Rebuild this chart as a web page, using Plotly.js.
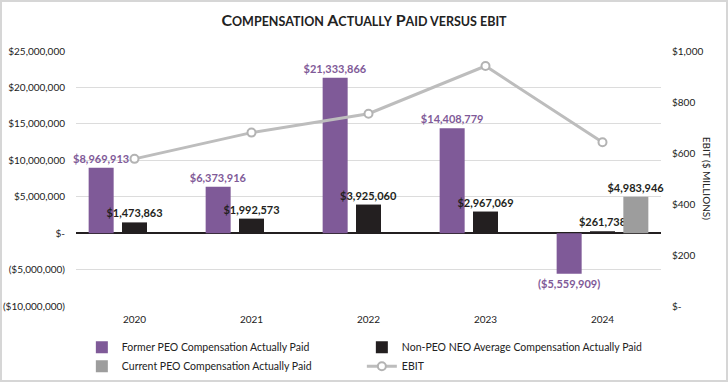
<!DOCTYPE html>
<html>
<head>
<meta charset="utf-8">
<script src="https://cdn.plot.ly/plotly-3.0.1.min.js"></script>
<style>
  html, body { margin: 0; padding: 0; background: #ffffff; }
  #chart { width: 724px; height: 378px; border: 2px solid #d6d6d6; }
</style>
</head>
<body>
<div id="chart"></div>
<script>
const years = ['2020', '2021', '2022', '2023', '2024'];
const formerPEO = [8969913, 6373916, 21333866, 14408779, -5559909];
const nonPEO = [1473863, 1992573, 3925060, 2967069, 261738];
const currentPEO = [null, null, null, null, 4983946];
const ebit = [577, 680, 754, 941, 642];

const leftTickVals = [25000000, 20000000, 15000000, 10000000, 5000000, 0, -5000000, -10000000];
const leftTickText = ['$25,000,000', '$20,000,000', '$15,000,000', '$10,000,000', '$5,000,000', '$-', '($5,000,000)', '($10,000,000)'];
const rightTickVals = [1000, 800, 600, 400, 200, 0];
const rightTickText = ['$1,000', '$800', '$600', '$400', '$200', '$-'];

function money(v) {
  if (v === null || v === undefined) return '';
  const s = '$' + Math.abs(v).toLocaleString('en-US');
  return v < 0 ? '(' + s + ')' : s;
}

const PURPLE = '#7f5a98';
const BLACK = '#231f20';
const GRAY = '#9d9d9d';
const LINE = '#bdbdbd';
const FONT = 'Lato, "Open Sans", sans-serif';

const traces = [
  {
    type: 'bar', name: 'Former PEO Compensation Actually Paid',
    x: years, y: formerPEO, marker: { color: PURPLE },
    text: formerPEO.map(money), textposition: 'outside', constraintext: 'none', cliponaxis: false,
    textfont: { family: FONT, size: 11, color: PURPLE, weight: 'bold' },
    hoverinfo: 'none'
  },
  {
    type: 'bar', name: 'Non-PEO NEO Average Compensation Actually Paid',
    x: years, y: nonPEO, marker: { color: BLACK },
    text: nonPEO.map(money), textposition: 'outside', constraintext: 'none', cliponaxis: false,
    textfont: { family: FONT, size: 11, color: BLACK, weight: 'bold' },
    hoverinfo: 'none'
  },
  {
    type: 'bar', name: 'Current PEO Compensation Actually Paid',
    x: years, y: currentPEO, marker: { color: GRAY },
    text: currentPEO.map(money), textposition: 'outside', constraintext: 'none', cliponaxis: false,
    textfont: { family: FONT, size: 11, color: BLACK, weight: 'bold' },
    hoverinfo: 'none'
  },
  {
    type: 'scatter', mode: 'lines+markers', name: 'EBIT',
    x: years, y: ebit, yaxis: 'y2',
    line: { color: LINE, width: 3 },
    marker: { symbol: 'circle', size: 8, color: '#ffffff', line: { color: '#b3b3b3', width: 2 } },
    hoverinfo: 'none'
  }
];

const sc = 'font-size:12.5px';
const layout = {
  width: 724, height: 378,
  margin: { l: 74, r: 65, t: 49, b: 74, autoexpand: false },
  paper_bgcolor: '#ffffff', plot_bgcolor: '#ffffff',
  font: { family: FONT, size: 10, color: '#222222' },
  title: {
    text: '<b>C<span style="' + sc + '">OMPENSATION</span> A<span style="' + sc + '">CTUALLY</span> P<span style="' + sc + '">AID VERSUS EBIT</span></b>',
    font: { family: FONT, size: 16, color: '#222222' },
    x: 0.5, xanchor: 'center', y: 0.952, yanchor: 'middle'
  },
  barmode: 'group', bargap: 0.145, bargroupgap: 0.25,
  xaxis: {
    type: 'category', showgrid: false, showline: false, zeroline: false,
    tickfont: { family: FONT, size: 10, color: '#222222' },
    ticks: 'outside', ticklen: 4, tickcolor: 'rgba(0,0,0,0)'
  },
  yaxis: {
    range: [-10000000, 25000000], tickvals: leftTickVals, ticktext: leftTickText,
    showgrid: true, gridcolor: '#dcdcdc', gridwidth: 1,
    zeroline: true, zerolinecolor: BLACK, zerolinewidth: 2,
    showline: false, ticks: 'outside', ticklen: 8, tickcolor: 'rgba(0,0,0,0)',
    tickfont: { family: FONT, size: 10, color: '#222222' }
  },
  yaxis2: {
    overlaying: 'y', side: 'right', range: [0, 1000],
    tickvals: rightTickVals, ticktext: rightTickText,
    showgrid: false, zeroline: false, showline: false,
    ticks: 'outside', ticklen: 8, tickcolor: 'rgba(0,0,0,0)',
    tickfont: { family: FONT, size: 10, color: '#222222' }
  },
  showlegend: true,
  legend: {
    orientation: 'h', x: 0.01, xanchor: 'left', y: -0.105, yanchor: 'top',
    entrywidth: 235, entrywidthmode: 'pixels', traceorder: 'normal',
    font: { family: FONT, size: 10.5, color: '#222222' },
    itemwidth: 30, tracegroupgap: 0
  },
  annotations: [
    {
      text: 'EBIT ($ MILLIONS)', xref: 'paper', yref: 'paper', x: 1.079, y: 0.502,
      xanchor: 'center', yanchor: 'middle', textangle: 90, showarrow: false,
      font: { family: FONT, size: 10, color: '#222222' }
    }
  ]
};

Plotly.newPlot('chart', traces, layout, { staticPlot: true, displayModeBar: false });
</script>
</body>
</html>
